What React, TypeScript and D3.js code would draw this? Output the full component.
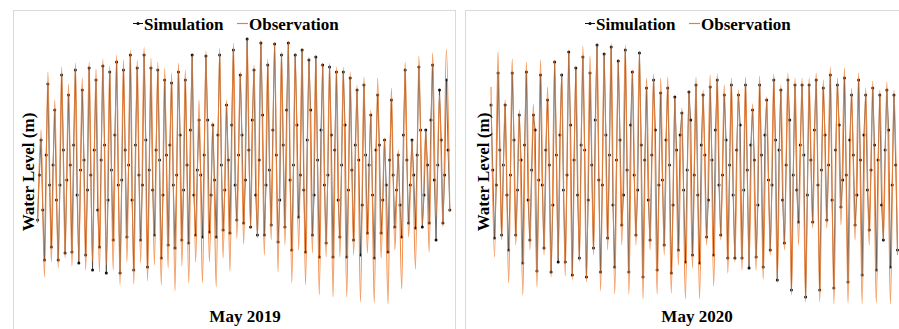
import React, { useEffect, useRef } from 'react';
import * as d3 from 'd3';

// ---- May 2019 (m) : tide extremes, series starts on the low before the first high
const obsLows2019 = [
  0.82,
  0.28, 0.43, 0.37, 0.47, 0.39, 0.45, 0.35, 0.43, 0.33, 0.40,
  0.35, 0.20, 0.43, 0.21, 0.42, 0.24, 0.40, 0.20, 0.37, 0.14,
  0.39, 0.22, 0.43, 0.22, 0.43, 0.18, 0.47, 0.34, 0.67, 0.61,
  0.77, 0.67, 0.50, 0.65, 0.33, 0.60, 0.22, 0.55, 0.20, 0.52,
  0.10, 0.48, 0.08, 0.48, 0.08, 0.50, 0.03, 0.52, 0.02, 0.47,
  0.01, 0.55, 0.16, 0.68, 0.36, 0.80, 0.53, 0.90, 0.78, 0.94,
];
const obsHighs2019 = [
  1.75, 2.33, 2.05, 2.38, 2.21, 2.42, 2.27, 2.43, 2.36, 2.46,
  2.39, 2.50, 2.45, 2.55, 2.45, 2.58, 2.47, 2.43, 2.37, 2.32,
  2.42, 2.35, 2.50, 2.05, 2.54, 1.83, 2.57, 2.05, 2.62, 2.33,
  2.66, 2.40, 2.65, 2.46, 2.63, 2.53, 2.64, 2.52, 2.57, 2.48,
  2.50, 2.42, 2.42, 2.38, 2.38, 2.33, 2.20, 2.28, 1.95, 2.27,
  1.67, 2.17, 1.55, 2.43, 1.65, 2.49, 1.75, 2.52, 2.10, 2.56,
];
const simLows2019 = [
  0.85,
  0.45, 0.58, 0.45, 0.52, 0.53, 0.42, 0.50, 0.35, 0.58, 0.32,
  0.65, 0.32, 0.68, 0.35, 0.65, 0.38, 0.70, 0.47, 0.60, 0.57,
  0.65, 0.62, 0.70, 0.68, 0.73, 0.68, 0.75, 0.72, 0.85, 0.82,
  0.78, 0.70, 0.70, 0.80, 0.63, 0.78, 0.55, 0.88, 0.53, 0.70,
  0.48, 0.62, 0.48, 0.68, 0.48, 0.65, 0.50, 0.72, 0.47, 0.72,
  0.53, 0.78, 0.68, 0.82, 0.77, 0.78, 0.82, 0.65, 0.82, 0.95,
];
const simHighs2019 = [
  1.65, 2.21, 1.95, 2.30, 2.10, 2.35, 2.15, 2.37, 2.25, 2.39,
  2.33, 2.43, 2.35, 2.50, 2.37, 2.50, 2.37, 2.35, 2.25, 2.22,
  2.33, 2.25, 2.50, 1.85, 2.49, 1.80, 2.50, 2.00, 2.55, 2.30,
  2.66, 2.35, 2.62, 2.40, 2.61, 2.50, 2.62, 2.50, 2.55, 2.45,
  2.48, 2.40, 2.38, 2.33, 2.33, 2.27, 2.15, 2.20, 1.90, 2.10,
  1.65, 2.05, 1.50, 2.35, 1.65, 2.38, 1.75, 2.40, 2.15, 2.25,
];
// simulated samples between consecutive extremes
const simMids2019 = [
  1.30, 0.95, 1.50, 1.20, 1.40, 1.05, 1.20, 1.55, 1.25, 1.40,
  1.60, 1.10, 1.35, 1.45, 1.15, 1.30, 1.55, 0.95, 1.45, 1.60,
  1.05, 1.35, 1.70, 1.20, 1.25, 1.55, 1.40, 1.05, 1.60, 1.30,
  1.20, 1.65, 1.35, 1.15, 1.55, 1.45, 1.10, 1.50, 1.60, 1.20,
  1.30, 1.70, 1.15, 1.40, 1.75, 1.10, 1.35, 1.30, 1.50, 1.85,
  1.10, 1.25, 1.70, 1.40, 1.15, 1.45, 1.80, 1.20, 1.50, 1.70,
  1.25, 1.55, 1.85, 1.10, 1.45, 1.90, 1.20, 1.35, 1.75, 1.50,
  1.05, 1.60, 1.95, 1.25, 1.40, 1.80, 1.30, 1.15, 1.65, 1.95,
  1.10, 1.45, 1.75, 1.20, 1.30, 1.70, 1.55, 1.05, 1.40, 1.80,
  1.15, 1.35, 1.60, 1.45, 1.00, 1.50, 1.40, 1.10, 1.55, 1.60,
  1.05, 1.20, 1.45, 1.30, 1.15, 1.00, 1.70, 1.45, 1.20, 1.30,
  1.50, 1.75, 1.10, 1.40, 1.85, 1.25, 1.40, 1.65, 1.30, 1.55,
];

// ---- May 2020 (m) : series starts on a high
const obsHighs2020 = [
  2.18,
  2.53, 2.05, 2.46, 1.95, 2.43, 2.01, 2.45, 2.18, 2.45, 2.32,
  2.54, 2.38, 2.59, 2.49, 2.61, 2.52, 2.62, 2.45, 2.60, 2.35,
  2.53, 2.27, 2.31, 2.27, 2.28, 2.08, 1.97, 2.15, 2.28, 2.15,
  2.30, 2.31, 2.20, 2.27, 2.15, 2.28, 2.01, 2.29, 2.08, 2.31,
  2.20, 2.32, 2.27, 2.27, 2.27, 2.32, 2.25, 2.38, 2.27, 2.37,
  2.17, 2.32, 2.17, 2.24, 2.15, 2.23, 2.15,
];
const obsLows2020 = [
  0.48, 0.65, 0.22, 0.60, 0.10, 0.55, 0.18, 0.50, 0.28, 0.47,
  0.29, 0.25, 0.43, 0.23, 0.50, 0.14, 0.55, 0.11, 0.60, 0.11,
  0.60, 0.06, 0.55, 0.11, 0.50, 0.12, 0.40, 0.06, 0.37, 0.06,
  0.60, 0.19, 0.65, 0.32, 0.43, 0.35, 0.40, 0.35, 0.26, 0.50,
  0.23, 0.55, 0.10, 0.60, 0.03, 0.77, 0.03, 0.77, 0.01, 0.80,
  0.02, 0.65, 0.01, 0.60, 0.02, 0.65, 0.01, 0.50,
];
const simHighs2020 = [
  2.00,
  2.32, 2.00, 2.32, 1.90, 2.33, 1.90, 2.30, 2.05, 2.43, 2.30,
  2.53, 2.37, 2.48, 2.32, 2.60, 2.51, 2.58, 2.44, 2.55, 2.33,
  2.52, 2.17, 2.25, 2.12, 2.17, 2.08, 1.92, 2.13, 2.20, 2.10,
  2.18, 2.25, 2.10, 2.20, 2.10, 2.20, 1.95, 2.20, 2.05, 2.25,
  2.15, 2.25, 2.20, 2.20, 2.20, 2.25, 2.17, 2.30, 2.20, 2.27,
  2.10, 2.25, 2.10, 2.17, 2.10, 2.15, 2.10,
];
const simLows2020 = [
  0.67, 0.70, 0.55, 0.70, 0.42, 0.65, 0.34, 0.57, 0.33, 0.43,
  0.43, 0.30, 0.47, 0.28, 0.57, 0.33, 0.67, 0.38, 0.80, 0.33,
  0.70, 0.28, 0.65, 0.35, 0.60, 0.32, 0.55, 0.43, 0.50, 0.42,
  0.68, 0.50, 0.70, 0.47, 0.47, 0.47, 0.37, 0.48, 0.38, 0.55,
  0.25, 0.62, 0.15, 0.83, 0.08, 0.83, 0.15, 0.85, 0.17, 0.98,
  0.23, 0.80, 0.30, 0.75, 0.35, 0.65, 0.38, 0.55,
];
const simMids2020 = [
  1.35, 1.20, 1.55, 1.40, 1.10, 1.30, 1.65, 1.15, 1.45, 1.60,
  1.05, 1.35, 1.75, 1.25, 1.20, 1.55, 1.40, 1.00, 1.50, 1.70,
  1.15, 1.30, 1.80, 1.45, 1.10, 1.60, 1.55, 1.05, 1.40, 1.85,
  1.25, 1.20, 1.70, 1.50, 1.00, 1.45, 1.65, 1.10, 1.35, 1.80,
  1.30, 1.15, 1.60, 1.45, 1.05, 1.50, 1.75, 1.20, 1.25, 1.65,
  1.40, 1.00, 1.55, 1.70, 1.15, 1.35, 1.85, 1.30, 1.10, 1.60,
  1.50, 1.05, 1.45, 1.75, 1.20, 1.30, 1.65, 1.40, 1.10, 1.55,
  1.80, 1.15, 1.35, 1.60, 1.45, 1.00, 1.50, 1.70, 1.25, 1.20,
  1.65, 1.55, 1.05, 1.40, 1.85, 1.30, 1.15, 1.60, 1.50, 1.10,
  1.45, 1.75, 1.20, 1.35, 1.70, 1.40, 1.05, 1.55, 1.80, 1.25,
  1.30, 1.65, 1.50, 1.10, 1.45, 1.70, 1.15, 1.35, 1.60, 1.45,
  1.00, 1.55, 1.75, 1.20, 1.40,
];

const seriesNames = ['Simulation', 'Observation'];
const monthLabels = ['May 2019', 'May 2020'];
const yTitle = 'Water Level (m)';

const ORANGE = '#ED7D31';
const FONT = "'Times New Roman', 'Liberation Serif', serif";

const interleave = (a: number[], b: number[]) => {
  const out: number[] = [];
  a.forEach((v, i) => {
    out.push(v);
    if (i < b.length) out.push(b[i]);
  });
  return out;
};

const panels = [
  {
    label: monthLabels[0],
    frameX: 13.5, frameW: 442,
    plotX: [37.6, 449.8],
    obs: interleave(obsLows2019, obsHighs2019),
    simExt: interleave(simLows2019, simHighs2019),
    simMids: simMids2019,
    legendX: 133, legendX2: 237,
    yTitleX: 34, xTitleX: 245,
  },
  {
    label: monthLabels[1],
    frameX: 465.5, frameW: 450,
    plotX: [491, 897.5],
    obs: interleave(obsHighs2020, obsLows2020),
    simExt: interleave(simHighs2020, simLows2020),
    simMids: simMids2020,
    legendX: 585, legendX2: 689,
    yTitleX: 489, xTitleX: 697,
  },
];

const App = () => {
  const svgRef = useRef<SVGSVGElement>(null);

  useEffect(() => {
    const svg = d3.select(svgRef.current);
    svg.selectAll('*').remove();

    const y = d3.scaleLinear().domain([0, 2.7]).range([305, 35]);

    panels.forEach(p => {
      const g = svg.append('g');

      g.append('rect')
        .attr('x', p.frameX).attr('y', 10.5)
        .attr('width', p.frameW).attr('height', 330)
        .attr('fill', 'white').attr('stroke', '#d9d9d9');

      const x = d3.scaleLinear().domain([0, p.obs.length - 1]).range(p.plotX);

      // simulation first (line + markers), observation drawn over it like the source chart
      const sim: { t: number; v: number }[] = [];
      p.simExt.forEach((v, i) => {
        sim.push({ t: i, v });
        if (i < p.simMids.length) sim.push({ t: i + 0.5, v: p.simMids[i] });
      });
      const simLine = d3.line<{ t: number; v: number }>()
        .x(d => x(d.t))
        .y(d => y(d.v));
      g.append('path')
        .attr('d', simLine(sim))
        .attr('fill', 'none')
        .attr('stroke', '#333')
        .attr('stroke-width', 0.7);
      g.selectAll('.dot')
        .data(sim)
        .enter()
        .append('circle')
        .attr('cx', d => x(d.t))
        .attr('cy', d => y(d.v))
        .attr('r', 1.5)
        .attr('fill', '#111');

      const obsLine = d3.line<number>()
        .x((_, i) => x(i))
        .y(d => y(d))
        .curve(d3.curveMonotoneX);
      g.append('path')
        .attr('d', obsLine(p.obs))
        .attr('fill', 'none')
        .attr('stroke', ORANGE)
        .attr('stroke-opacity', 0.9)
        .attr('stroke-width', 1.1);

      // legend
      const lg = g.append('g').style('font-family', FONT).style('font-weight', 'bold').style('font-size', '17px');
      lg.append('line')
        .attr('x1', p.legendX).attr('x2', p.legendX + 10)
        .attr('y1', 23.5).attr('y2', 23.5)
        .attr('stroke', '#111').attr('stroke-width', 1);
      lg.append('circle').attr('cx', p.legendX + 5).attr('cy', 23.5).attr('r', 1.6).attr('fill', '#111');
      lg.append('text').attr('x', p.legendX + 11).attr('y', 29.5).text(seriesNames[0]);
      lg.append('line')
        .attr('x1', p.legendX2).attr('x2', p.legendX2 + 11)
        .attr('y1', 23.5).attr('y2', 23.5)
        .attr('stroke', ORANGE).attr('stroke-width', 1.2);
      lg.append('text').attr('x', p.legendX2 + 12).attr('y', 29.5).text(seriesNames[1]);

      // axis titles
      g.append('text')
        .attr('transform', `translate(${p.yTitleX},172) rotate(-90)`)
        .attr('text-anchor', 'middle')
        .style('font-family', FONT).style('font-weight', 'bold').style('font-size', '17px')
        .text(yTitle);
      g.append('text')
        .attr('x', p.xTitleX).attr('y', 322)
        .attr('text-anchor', 'middle')
        .style('font-family', FONT).style('font-weight', 'bold').style('font-size', '17px')
        .text(p.label);
    });
  }, []);

  return (
    <svg
      ref={svgRef}
      width={899}
      height={329}
      style={{ position: 'fixed', left: 0, top: 0, background: 'white' }}
    />
  );
};

export default App;
